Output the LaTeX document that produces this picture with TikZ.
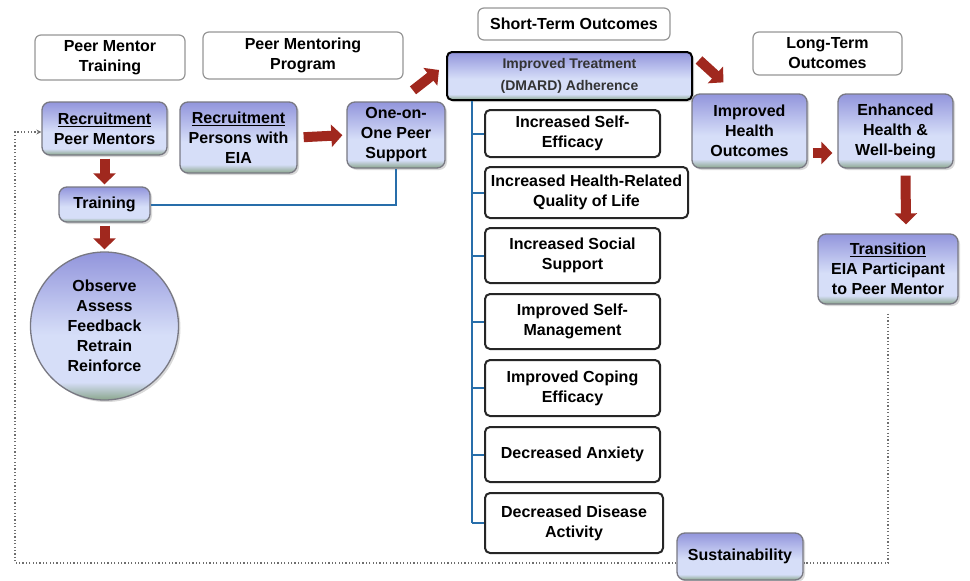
\documentclass[tikz,border=0pt]{standalone}
\usepackage{fontspec}
\setmainfont{Liberation Sans}
\usetikzlibrary{arrows.meta,shadows,calc}

\definecolor{shtop}{RGB}{146,149,220}
\definecolor{shlight}{RGB}{214,222,248}
\definecolor{shgreen}{RGB}{138,166,140}
\definecolor{arrowred}{RGB}{160,40,30}
\definecolor{treeblue}{RGB}{40,110,170}
\definecolor{hdgray}{RGB}{150,150,150}
\definecolor{edgegray}{RGB}{120,120,130}
\definecolor{loopgray}{RGB}{110,110,110}

\pgfdeclareverticalshading{boxshade}{100bp}{color(0bp)=(shgreen); color(25bp)=(shgreen); color(31bp)=(shlight); color(47bp)=(shlight); color(75bp)=(shtop); color(100bp)=(shtop)}

\tikzset{
  txt/.style={align=center, font=\fontsize{16}{20}\selectfont\bfseries},
  header/.style={txt, draw=hdgray, line width=1.2pt, rounded corners=6pt, fill=white, inner sep=2pt},
  bluebox/.style={txt, draw=edgegray, line width=1.3pt, rounded corners=8pt, shading=boxshade,
    drop shadow={opacity=0.3, shadow xshift=2pt, shadow yshift=-2pt}, inner sep=2pt},
  outbox/.style={txt, draw=black!85, line width=2pt, rounded corners=5pt, fill=white, inner sep=2pt},
  bigarrow/.style={draw=arrowred, line width=10pt, -{Triangle[width=22pt,length=11pt]}},
  treeline/.style={draw=treeblue, line width=2pt},
  loopline/.style={draw=loopgray, line width=1.2pt, dash pattern=on 1.2pt off 2.2pt}
}

\begin{document}
\begin{tikzpicture}[x=1pt,y=-1pt]
\useasboundingbox (0,0) rectangle (970,581);

% headings
\node[header, minimum width=150, minimum height=45] (hdtrain) at (110,57.5) {Peer Mentor\\Training};
\node[header, minimum width=200, minimum height=47] (hdprog) at (303,55.5) {Peer Mentoring\\Program};
\node[header, minimum width=192, minimum height=32] (hdshort) at (574,24) {Short-Term Outcomes};
\node[header, minimum width=149, minimum height=43] (hdlong) at (827.5,53.5) {Long-Term\\Outcomes};

% program boxes
\node[bluebox, minimum width=125, minimum height=53] (rpm) at (104.5,128.5) {\underline{Recruitment}\\Peer Mentors};
\node[bluebox, minimum width=117, minimum height=71] (reia) at (238.5,137.5) {\underline{Recruitment}\\Persons with\\EIA};
\node[bluebox, minimum width=98, minimum height=66] (one) at (396,135) {One-on-\\One Peer\\Support};
\node[bluebox, minimum width=91, minimum height=35] (train) at (104.5,204.5) {Training};
\node[bluebox, circle, minimum size=148] (obs) at (104.5,326) {Observe\\Assess\\Feedback\\Retrain\\Reinforce};
\node[bluebox, draw=black, line width=2pt, rounded corners=5pt, minimum width=245, minimum height=48,
  font=\fontsize{14}{22}\selectfont\bfseries, text=black!80] (dmard) at (569.5,76) {Improved Treatment\\(DMARD) Adherence};

% short-term outcomes
\node[outbox, minimum width=175, minimum height=47] (o1) at (572.5,133.5) {Increased Self-\\Efficacy};
\node[outbox, minimum width=203, minimum height=51] (o2) at (586.5,192.5) {Increased Health-Related\\Quality of Life};
\node[outbox, minimum width=175, minimum height=55] (o3) at (572.5,255.5) {Increased Social\\Support};
\node[outbox, minimum width=175, minimum height=55] (o4) at (572.5,321.5) {Improved Self-\\Management};
\node[outbox, minimum width=175, minimum height=56] (o5) at (572.5,388) {Improved Coping\\Efficacy};
\node[outbox, minimum width=175, minimum height=55] (o6) at (572.5,454.5) {Decreased Anxiety};
\node[outbox, minimum width=178, minimum height=60] (o7) at (574,523) {Decreased Disease\\Activity};

% long-term outcomes
\node[bluebox, minimum width=115, minimum height=74] (iho) at (749.5,131) {Improved\\Health\\Outcomes};
\node[bluebox, minimum width=115, minimum height=74] (ehw) at (895.5,131) {Enhanced\\Health \&\\Well-being};
\node[bluebox, minimum width=140, minimum height=70] (trans) at (888,269) {\underline{Transition}\\EIA Participant\\to Peer Mentor};
\node[bluebox, minimum width=126, minimum height=47] (sust) at (740,556.5) {Sustainability};

% blue connectors
\coordinate (trunk) at (472,100);
\draw[treeline] (dmard.south -| trunk) -- (trunk |- o7.west);
\foreach \i in {1,...,7}{
\draw[treeline] (trunk |- o\i.west) -- (o\i.west);
}
\draw[treeline] (train.east) -| (one.south);

% red arrows
\draw[bigarrow, shorten <=3pt, shorten >=2pt] (rpm.south) -- (train.north);
\draw[bigarrow, shorten <=3pt, shorten >=2pt] (train.south) -- (obs.north);
\draw[bigarrow, shorten <=6pt, shorten >=4pt] (reia.east) -- (one.west);
\draw[bigarrow] ($(one.north)+(17,-11)$) -- ($(dmard.west)+(-7,-6)$);
\draw[bigarrow] ($(dmard.east)+(6,-16)$) -- ($(iho.north)+(-26,-11)$);
\draw[bigarrow] ($(iho.east)+(5,22)$) -- ($(ehw.west)+(-5,22)$);
\draw[bigarrow] ($(ehw.south)+(10,7)$) -- ($(trans.north)+(18,-9)$);

% sustainability loop
\coordinate (lcorner) at (15,563);
\draw[loopline] ($(trans.south)+(0,9)$) |- ($(sust.east)+(0,6.5)$);
\draw[loopline, -{Stealth[length=5pt,width=5pt]}] ($(sust.west)+(0,6.5)$) -- (lcorner) |- ($(rpm.west)+(0,3.5)$);
\end{tikzpicture}
\end{document}
